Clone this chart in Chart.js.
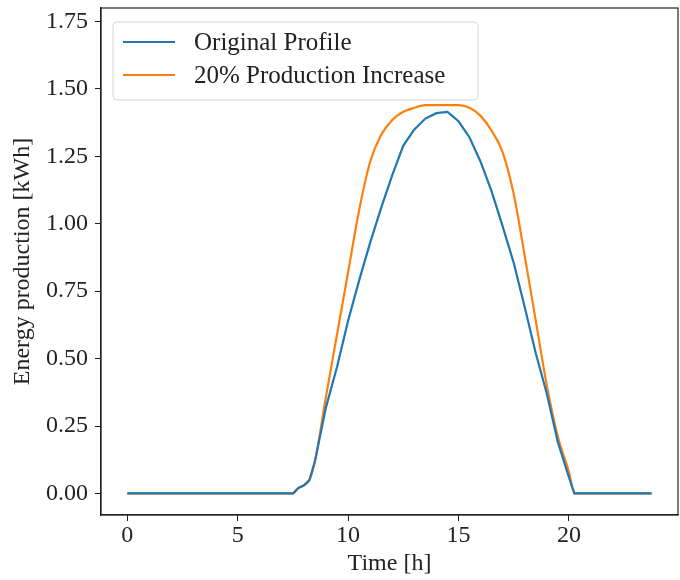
<!DOCTYPE html>
<html>
<head>
    <title>Energy production</title>
    <script src="https://cdn.jsdelivr.net/npm/chart.js"></script>
    <style>
        html, body { margin: 0; padding: 0; background: white; }
        #wrap { width: 680px; height: 580px; }
    </style>
</head>
<body>
    <div id="wrap"><canvas id="energyPlot" width="680" height="580"></canvas></div>

    <script>
        // values
        const hours = [0, 7.5, 7.75, 8, 8.25, 8.5, 9, 9.5, 10, 10.5, 11, 11.5, 12, 12.5, 13, 13.5,
                       14, 14.5, 15, 15.5, 16, 16.5, 17, 17.5, 18, 18.5, 19, 19.5, 20, 20.25, 23.75];
        const originalProfile = [0, 0, 0.02, 0.03, 0.05, 0.12, 0.32, 0.47, 0.64, 0.79, 0.93, 1.06, 1.18, 1.29, 1.35, 1.39,
                                 1.41, 1.415, 1.38, 1.32, 1.23, 1.12, 0.99, 0.855, 0.69, 0.52, 0.37, 0.19, 0.06, 0, 0];
        const increasedProfile = [0, 0, 0.02, 0.03, 0.05, 0.12, 0.36, 0.59, 0.82, 1.05, 1.23, 1.33, 1.385, 1.415, 1.43, 1.44,
                                  1.44, 1.44, 1.44, 1.43, 1.40, 1.345, 1.265, 1.11, 0.88, 0.64, 0.40, 0.21, 0.08, 0, 0];
        const seriesLabels = ['Original Profile', '20% Production Increase'];
        const xTicks = [0, 5, 10, 15, 20];
        const yTicks = [0, 0.25, 0.5, 0.75, 1.0, 1.25, 1.5, 1.75];

        const serif = "'Liberation Serif', 'DejaVu Serif', serif";

        // frame around the plot area and a matplotlib style legend box
        const frameAndLegend = {
            id: 'frameAndLegend',
            afterDatasetsDraw(chart) {
                const { ctx, chartArea: a } = chart;
                ctx.save();
                ctx.strokeStyle = '#222';
                ctx.lineWidth = 1.2;
                ctx.strokeRect(a.left, a.top, a.right - a.left, a.bottom - a.top);

                const bx = a.left + 12, by = a.top + 14, bw = 365, bh = 78;
                ctx.beginPath();
                ctx.roundRect(bx, by, bw, bh, 4);
                ctx.fillStyle = 'rgba(255,255,255,0.85)';
                ctx.fill();
                ctx.strokeStyle = '#d6d6d6';
                ctx.lineWidth = 1;
                ctx.stroke();

                ctx.font = '25px ' + serif;
                ctx.textBaseline = 'middle';
                chart.data.datasets.forEach((ds, i) => {
                    const y = by + 20 + i * 33;
                    ctx.beginPath();
                    ctx.moveTo(bx + 10, y);
                    ctx.lineTo(bx + 62, y);
                    ctx.strokeStyle = ds.borderColor;
                    ctx.lineWidth = ds.borderWidth;
                    ctx.stroke();
                    ctx.fillStyle = '#222';
                    ctx.fillText(ds.label, bx + 81, y + 1);
                });
                ctx.restore();
            }
        };

        const ctx = document.getElementById('energyPlot').getContext('2d');

        new Chart(ctx, {
            type: 'line',
            data: {
                datasets: [{
                    label: seriesLabels[0],
                    data: hours.map((h, i) => ({ x: h, y: originalProfile[i] })),
                    borderColor: '#1f77b4',
                    borderWidth: 2.2,
                    pointRadius: 0,
                    tension: 0,
                    fill: false
                },
                {
                    label: seriesLabels[1],
                    data: hours.map((h, i) => ({ x: h, y: increasedProfile[i] })),
                    borderColor: '#ff7f0e',
                    borderWidth: 2.2,
                    pointRadius: 0,
                    cubicInterpolationMode: 'monotone',
                    fill: false
                }]
            },
            options: {
                responsive: false,
                animation: false,
                layout: { padding: { top: 8, right: 2, left: 0, bottom: 0 } },
                scales: {
                    x: {
                        type: 'linear',
                        min: -1.19,
                        max: 24.94,
                        afterBuildTicks: axis => { axis.ticks = xTicks.map(v => ({ value: v })); },
                        afterFit: axis => {
                            axis.height = 65;
                            axis.paddingLeft = 0;
                            axis.paddingRight = 0;
                        },
                        grid: { drawOnChartArea: false, drawTicks: true, tickLength: 6, color: '#222' },
                        border: { display: true, color: '#222', width: 1.2 },
                        ticks: {
                            color: '#222',
                            padding: 0,
                            maxRotation: 0,
                            font: { family: serif, size: 24 },
                            callback: v => String(v)
                        },
                        title: {
                            display: true,
                            text: 'Time [h]',
                            color: '#222',
                            font: { family: serif, size: 24, lineHeight: 1.2 },
                            padding: { top: 0, bottom: 2 }
                        }
                    },
                    y: {
                        type: 'linear',
                        min: -0.08,
                        max: 1.80,
                        afterBuildTicks: axis => { axis.ticks = yTicks.map(v => ({ value: v })); },
                        afterFit: axis => {
                            axis.width = 101;
                            axis.paddingTop = 0;
                            axis.paddingBottom = 0;
                        },
                        grid: { drawOnChartArea: false, drawTicks: true, tickLength: 6, color: '#222' },
                        border: { display: true, color: '#222', width: 1.2 },
                        ticks: {
                            color: '#222',
                            padding: 7,
                            font: { family: serif, size: 24 },
                            callback: v => v.toFixed(2)
                        },
                        title: {
                            display: true,
                            text: 'Energy production [kWh]',
                            color: '#222',
                            font: { family: serif, size: 24, lineHeight: 1.2 },
                            padding: { top: 8, bottom: 0 }
                        }
                    }
                },
                plugins: {
                    legend: { display: false },
                    tooltip: { enabled: false }
                }
            },
            plugins: [frameAndLegend]
        });
    </script>
</body>
</html>
